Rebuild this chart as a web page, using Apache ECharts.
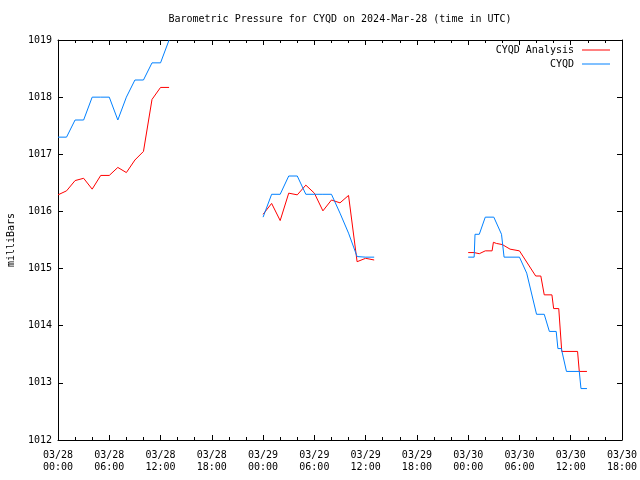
<!DOCTYPE html>
<html>
<head>
<meta charset="utf-8">
<script src="https://cdn.jsdelivr.net/npm/echarts@6/dist/echarts.min.js"></script>
<style>html,body{margin:0;padding:0;background:#fff}#c{width:640px;height:480px}</style>
</head>
<body>
<div id="c"></div>
<script>
// hours since 2024-03-28 00:00 UTC
const tickLabels = ["03/28\n00:00","03/28\n06:00","03/28\n12:00","03/28\n18:00","03/29\n00:00","03/29\n06:00","03/29\n12:00","03/29\n18:00","03/30\n00:00","03/30\n06:00","03/30\n12:00","03/30\n18:00"];

// CYQD Analysis (red)
const anaHours1 = [0,1,2,3,4,5,6,7,8,9,10,11,12,13];
const anaVals1  = [1016.29,1016.36,1016.54,1016.58,1016.39,1016.63,1016.63,1016.77,1016.68,1016.90,1017.05,1017.96,1018.17,1018.17];
const anaHours2 = [24,25,26,27,28,29,30,31,32,33,34,35,36,37];
const anaVals2  = [1015.95,1016.14,1015.84,1016.32,1016.29,1016.46,1016.32,1016.01,1016.20,1016.15,1016.28,1015.12,1015.18,1015.15];
const anaHours3 = [48.0,48.7,49.3,50.0,50.8,50.95,51.3,52.0,52.9,54.0,55.9,56.5,56.9,57.8,58.0,58.6,58.95,60.8,61.0,61.9];
const anaVals3  = [1015.28,1015.28,1015.26,1015.31,1015.31,1015.46,1015.44,1015.42,1015.34,1015.31,1014.87,1014.87,1014.54,1014.54,1014.30,1014.30,1013.55,1013.55,1013.20,1013.20];

// CYQD observed (blue)
const obsHours1 = [0,1,2,3,4,5,6,7,8,9,10,11,12,13];
const obsVals1  = [1017.3,1017.3,1017.6,1017.6,1018.0,1018.0,1018.0,1017.6,1018.0,1018.3,1018.3,1018.6,1018.6,1019.0];
const obsHours2 = [24,25,26,27,28,29,30,31,32,33,34,35,36,37];
const obsVals2  = [1015.9,1016.3,1016.3,1016.62,1016.62,1016.3,1016.3,1016.3,1016.3,1015.97,1015.62,1015.21,1015.2,1015.2];
const obsHours3 = [48.0,48.7,48.8,49.3,50.0,51.0,51.9,52.2,54.0,54.85,56.0,56.9,57.5,58.3,58.5,58.9,59.5,61.0,61.2,61.9];
const obsVals3  = [1015.2,1015.2,1015.6,1015.6,1015.9,1015.9,1015.6,1015.2,1015.2,1014.92,1014.2,1014.2,1013.9,1013.9,1013.6,1013.6,1013.2,1013.2,1012.9,1012.9];

function joinSegments(segs) {
  const out = [];
  segs.forEach((s, k) => {
    if (k > 0) out.push([s[0][0] - 0.5, null]);
    s[0].forEach((t, i) => out.push([t, s[1][i]]));
  });
  return out;
}
const anaData = joinSegments([[anaHours1, anaVals1],[anaHours2, anaVals2],[anaHours3, anaVals3]]);
const obsData = joinSegments([[obsHours1, obsVals1],[obsHours2, obsVals2],[obsHours3, obsVals3]]);

const FONT = '"DejaVu Sans Mono", monospace';
const chart = echarts.init(document.getElementById('c'), null, {renderer: 'canvas'});
function xAxisDef(pos, showLabel) {
  return {
    type: 'value', min: 0, max: 66, interval: 6, position: pos,
    axisLine: {show: true, onZero: false, lineStyle: {color: '#000', width: 1}},
    axisTick: {show: true, inside: true, length: 5, lineStyle: {color: '#000'}},
    minorTick: {show: true, splitNumber: 3, length: 3, lineStyle: {color: '#000'}},
    splitLine: {show: false},
    axisLabel: showLabel ? {show: true, margin: 9, fontFamily: FONT, fontSize: 10, color: '#000', lineHeight: 12,
        formatter: v => tickLabels[Math.round(v / 6)] || ''} : {show: false}
  };
}
function yAxisDef(pos, showLabel) {
  const a = {
    type: 'value', min: 1012, max: 1019, interval: 1, position: pos,
    axisLine: {show: true, onZero: false, lineStyle: {color: '#000', width: 1}},
    axisTick: {show: true, inside: true, length: 5, lineStyle: {color: '#000'}},
    splitLine: {show: false},
    axisLabel: showLabel ? {show: true, margin: 6, fontFamily: FONT, fontSize: 10, color: '#000', formatter: v => String(v)} : {show: false}
  };
  if (showLabel) {
    a.name = 'milliBars'; a.nameLocation = 'middle'; a.nameGap = 42; a.nameRotate = 90;
    a.nameTextStyle = {fontFamily: FONT, fontSize: 10, color: '#000'};
  }
  return a;
}
chart.setOption({
  animation: false,
  backgroundColor: '#fff',
  grid: {left: 58, right: 18, top: 40, bottom: 40, containLabel: false, outerBoundsMode: 'none'},
  graphic: [{
    type: 'text', x: 340, y: 19,
    style: {text: 'Barometric Pressure for CYQD on 2024-Mar-28 (time in UTC)', font: '10px ' + FONT, fill: '#000', textAlign: 'center', textVerticalAlign: 'middle'}
  }],
  legend: {
    orient: 'vertical', right: 30, top: 44, align: 'right', padding: 0,
    itemWidth: 28, itemHeight: 1, itemGap: 2,
    icon: 'rect',
    textStyle: {fontFamily: FONT, fontSize: 10, color: '#000', lineHeight: 12, padding: [0, 3, 0, 0]},
    data: ['CYQD Analysis', 'CYQD']
  },
  xAxis: [xAxisDef('bottom', true), xAxisDef('top', false)],
  yAxis: [yAxisDef('left', true), yAxisDef('right', false)],
  series: [
    {name: 'CYQD Analysis', type: 'line', data: anaData, showSymbol: false, symbol: 'none', connectNulls: false,
     color: '#ff0000', lineStyle: {color: '#ff0000', width: 1}, xAxisIndex: 0, yAxisIndex: 0},
    {name: 'CYQD', type: 'line', data: obsData, showSymbol: false, symbol: 'none', connectNulls: false,
     color: '#0080ff', lineStyle: {color: '#0080ff', width: 1}, xAxisIndex: 0, yAxisIndex: 0}
  ]
});
</script>
</body>
</html>
